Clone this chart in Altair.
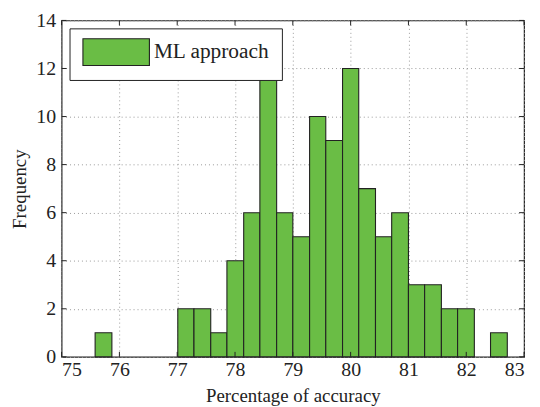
import altair as alt
import pandas as pd

# Histogram bins (edges)
bin_left = [75.58, 75.87, 76.15, 76.44, 76.72, 77.01, 77.29, 77.58, 77.86, 78.15,
            78.43, 78.72, 79.00, 79.29, 79.57, 79.86, 80.14, 80.43, 80.71, 81.00,
            81.28, 81.57, 81.85, 82.14, 82.42]
bin_right = [75.87, 76.15, 76.44, 76.72, 77.01, 77.29, 77.58, 77.86, 78.15, 78.43,
             78.72, 79.00, 79.29, 79.57, 79.86, 80.14, 80.43, 80.71, 81.00, 81.28,
             81.57, 81.85, 82.14, 82.42, 82.71]
counts = [1, 0, 0, 0, 0, 2, 2, 1, 4, 6, 12, 6, 5, 10, 9, 12, 7, 5, 6, 3, 3, 2, 2, 0, 1]
series_name = "ML approach"
x_ticks = [75, 76, 77, 78, 79, 80, 81, 82, 83]
y_ticks = [0, 2, 4, 6, 8, 10, 12, 14]

GREEN = "#6abd45"
FONT = "Liberation Serif, Times New Roman, DejaVu Serif, serif"

df = pd.DataFrame({"left": bin_left, "right": bin_right, "count": counts,
                   "series": [series_name] * len(counts)})
df = df[df["count"] > 0]

xs = alt.Scale(domain=[75, 83], nice=False, zero=False)
ys = alt.Scale(domain=[0, 14], nice=False)

bars = alt.Chart(df).mark_bar(stroke="#222222", strokeWidth=1.1).encode(
    x=alt.X("left:Q", scale=xs,
            axis=alt.Axis(values=x_ticks, title="Percentage of accuracy", format="d")),
    x2="right:Q",
    y=alt.Y("count:Q", scale=ys,
            axis=alt.Axis(values=y_ticks, title="Frequency", format="d")),
    y2=alt.datum(0),
    fill=alt.Fill("series:N",
                  scale=alt.Scale(domain=[series_name], range=[GREEN]),
                  legend=alt.Legend(
                      title=None, orient="none", legendX=8, legendY=8,
                      symbolType="M-3.045,-1.227L3.045,-1.227L3.045,1.227L-3.045,1.227Z",
                      symbolSize=484, symbolStrokeColor="#222222",
                      symbolStrokeWidth=1.1, strokeColor="#222222",
                      fillColor="white", padding=12, cornerRadius=0,
                      symbolOffset=23,
                      labelFont=FONT, labelFontSize=21.5, labelColor="#222222",
                      labelOffset=26)),
)

xt = pd.DataFrame({"v": x_ticks})
yt = pd.DataFrame({"v": y_ticks})
H = 339
W = 466
tick_style = dict(color="#222222", strokeWidth=1)
xtick_b = alt.Chart(xt).mark_rule(**tick_style).encode(
    x=alt.X("v:Q", scale=xs), y=alt.value(H), y2=alt.value(H - 5))
xtick_t = alt.Chart(xt).mark_rule(**tick_style).encode(
    x=alt.X("v:Q", scale=xs), y=alt.value(0), y2=alt.value(5))
ytick_l = alt.Chart(yt).mark_rule(**tick_style).encode(
    y=alt.Y("v:Q", scale=ys), x=alt.value(0), x2=alt.value(5))
ytick_r = alt.Chart(yt).mark_rule(**tick_style).encode(
    y=alt.Y("v:Q", scale=ys), x=alt.value(W), x2=alt.value(W - 5))

chart = alt.layer(bars, xtick_b, xtick_t, ytick_l, ytick_r).properties(
    width=W, height=H,
    autosize=alt.AutoSizeParams(type="none"),
    padding={"left": 54, "top": 11, "right": 8, "bottom": 48},
).configure_view(
    stroke="#222222", strokeWidth=1.2
).configure_axis(
    grid=True, gridColor="#9a9a9a", gridDash=[1, 3], gridWidth=1,
    domain=False, ticks=False,
    labelFont=FONT, labelFontSize=20, labelColor="#222222",
    titleFont=FONT, titleFontSize=19, titleColor="#222222", titleFontWeight="normal",
).configure_axisX(
    labelPadding=3, titlePadding=7
).configure_axisY(
    labelPadding=6, titlePadding=6
)

chart.save("out.html", embed_options={"renderer": "svg", "actions": False})
